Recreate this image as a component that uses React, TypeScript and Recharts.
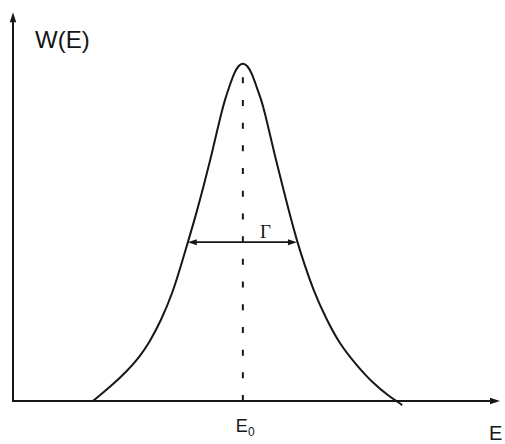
import React from 'react';
import { LineChart, Line, XAxis, YAxis, ReferenceLine } from 'recharts';

// Line profile W(E): energy (arbitrary units) and normalised intensity
const energy = [
  1.64, 1.99, 2.34, 2.6, 2.8, 3.04, 3.283, 3.447, 3.591, 3.755, 3.919, 4.063, 4.196, 4.268, 4.35, 4.453, 4.539,
  4.63, 4.72, 4.81,
  4.905, 4.987, 5.1, 5.182, 5.254, 5.387, 5.531, 5.685, 5.839, 5.993, 6.168, 6.424, 6.7, 7.06, 7.39, 7.74, 7.91, 7.99,
];
const intensity = [
  0, 0.041, 0.088, 0.131, 0.173, 0.238, 0.322, 0.4, 0.47, 0.55, 0.639, 0.72, 0.802, 0.846, 0.891, 0.935, 0.97,
  0.993, 1, 0.993,
  0.97, 0.935, 0.891, 0.846, 0.802, 0.72, 0.639, 0.55, 0.47, 0.4, 0.328, 0.245, 0.17, 0.105, 0.053, 0.012, -0.003, -0.012,
];

// Resonance centre and width markers
const centreEnergy = 4.72;
const peakValue = 1;
const halfMaxValue = 0.47;
const widthBounds = [3.59, 5.83];

// Axis extents and labels
const energyDomain = [0, 10];
const valueDomain = [-0.02, 1.15];
const yAxisLabel = 'W(E)';
const xAxisLabel = 'E';
const centreLabel = 'E';
const centreSub = '0';
const widthLabel = 'Γ';

const data = energy.map((e, i) => ({ E: e, W: intensity[i] }));

const ink = '#161616';
const font = '"Liberation Sans", Arial, Helvetica, sans-serif';

// filled arrowhead whose tip sits at (x, y), pointing along (dx, dy)
function head(x: number, y: number, dx: number, dy: number, len = 10, half = 3.2) {
  const bx = x - dx * len;
  const by = y - dy * len;
  const px = -dy * half;
  const py = dx * half;
  return `M${x},${y}L${bx + px},${by + py}L${bx - px},${by - py}Z`;
}

const YAxisArrow = (p: any) => {
  const { x1, y1, x2, y2 } = p;
  return (
    <g>
      <line x1={x1} y1={y1} x2={x2} y2={y2 + 6} stroke={ink} strokeWidth={2} />
      <path d={head(x2, y2, 0, -1)} fill={ink} />
      <text x={x1 + 22} y={y2 + 36} fontFamily={font} fontSize={24} fill={ink}>
        {yAxisLabel}
      </text>
    </g>
  );
};

const XAxisArrow = (p: any) => {
  const { x1, y1, x2, y2 } = p;
  return (
    <g>
      <line x1={x1 - 1} y1={y1} x2={x2 - 6} y2={y2} stroke={ink} strokeWidth={2} />
      <path d={head(x2, y2, 1, 0)} fill={ink} />
      <text x={x2 - 11} y={y2 + 39} fontFamily={font} fontSize={20} fill={ink}>
        {xAxisLabel}
      </text>
    </g>
  );
};

const CentreLine = (p: any) => {
  const { x1, y1, x2, y2 } = p;
  return (
    <g>
      <line
        x1={x1}
        y1={y1}
        x2={x2}
        y2={y2 + 3}
        stroke={ink}
        strokeWidth={2}
        strokeDasharray="6 16.7"
      />
      <text x={x1 - 7} y={y1 + 31} fontFamily={font} fontSize={18} fill={ink}>
        {centreLabel}
        <tspan fontSize={12} dy={4}>
          {centreSub}
        </tspan>
      </text>
    </g>
  );
};

const WidthArrow = (p: any) => {
  const { x1, y1, x2, y2 } = p;
  return (
    <g>
      <line x1={x1 + 6} y1={y1} x2={x2 - 6} y2={y2} stroke={ink} strokeWidth={1.8} />
      <path d={head(x1, y1, -1, 0, 9, 3)} fill={ink} />
      <path d={head(x2, y2, 1, 0, 9, 3)} fill={ink} />
      <text
        x={(x1 + x2) / 2 + 23}
        y={y1 - 4}
        fontFamily='"Liberation Serif", "Times New Roman", serif'
        fontSize={19}
        fill={ink}
        textAnchor="middle"
      >
        {widthLabel}
      </text>
    </g>
  );
};

export default function App() {
  return (
    <div style={{ position: 'absolute', left: 0, top: 0, background: '#fff' }}>
      <LineChart
        width={505}
        height={444}
        data={data}
        margin={{ top: 12.3, right: 5, bottom: 36.2, left: 13 }}
      >
        <XAxis type="number" dataKey="E" domain={energyDomain} hide />
        <YAxis type="number" domain={valueDomain} hide />
        <ReferenceLine
          segment={[{ x: centreEnergy, y: 0 }, { x: centreEnergy, y: peakValue }]}
          shape={CentreLine}
        />
        <ReferenceLine
          segment={[{ x: widthBounds[0], y: halfMaxValue }, { x: widthBounds[1], y: halfMaxValue }]}
          shape={WidthArrow}
        />
        <ReferenceLine
          segment={[{ x: energyDomain[0], y: 0 }, { x: energyDomain[0], y: valueDomain[1] }]}
          shape={YAxisArrow}
        />
        <ReferenceLine
          segment={[{ x: energyDomain[0], y: 0 }, { x: energyDomain[1], y: 0 }]}
          shape={XAxisArrow}
        />
        <Line
          type="basis"
          dataKey="W"
          stroke={ink}
          strokeWidth={2}
          dot={false}
          isAnimationActive={false}
        />
      </LineChart>
    </div>
  );
}
